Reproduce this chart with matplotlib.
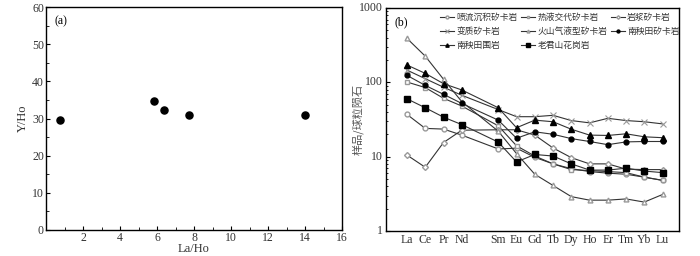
import matplotlib
matplotlib.use("Agg")
import matplotlib.pyplot as plt
from matplotlib.ticker import MultipleLocator, LogLocator, NullFormatter, FixedLocator

# ---------------- data (a) ----------------
la_ho = [0.78, 5.83, 6.40, 7.73, 14.0]
y_ho = [29.5, 34.6, 32.2, 30.9, 30.9]

# ---------------- data (b) ----------------
ree = ["La", "Ce", "Pr", "Nd", "Sm", "Eu", "Gd", "Tb", "Dy", "Ho", "Er", "Tm", "Yb", "Lu"]
ree_pos = [0, 1, 2, 3, 5, 6, 7, 8, 9, 10, 11, 12, 13, 14]

penliu = [37, 24, 23.5, 19.5, 12.7, 13.0, 9.8, 8.0, 6.9, 6.3, 6.0, 5.8, 5.3, 4.8]
reye = [101, 85, 61, 48, 26, 14, 10.2, 8.0, 6.7, 6.5, 6.3, 6.1, 5.3, 4.8]
yanjiang = [10.5, 7.2, 15.5, 22.7, 23, 23, 19.5, 13.1, 9.7, 8.0, 8.0, 6.8, 6.7, 6.7]
bianzhi = [146, 112, 86, 67, 43, 34.5, 34.5, 36, 30.6, 28.5, 32.8, 30.6, 29.5, 27.6]
huoshan = [390, 225, 110, 55, 22, 11, 5.8, 4.1, 2.9, 2.6, 2.6, 2.7, 2.45, 3.1]
nyt_skarn = [124, 91, 69, 52, 31, 17.7, 21.6, 20, 17.5, 16, 14.5, 15.8, 16, 16]
nyt_wall = [171, 132, 96, 79, 45.5, 24.5, 31, 29.5, 23.4, 19.5, 19.3, 20.3, 18.5, 18]
ljs_granite = [60, 45.5, 34, 27, 15.7, 8.5, 10.7, 10.2, 8.0, 6.6, 6.6, 7.0, 6.4, 6.1]

names = ["喷流沉积矽卡岩", "热液交代矽卡岩", "岩浆矽卡岩", "变质矽卡岩",
         "火山气液型矽卡岩", "南秧田矽卡岩", "南秧田围岩", "老君山花岗岩"]

serif = ["Liberation Serif", "DejaVu Serif"]
cjk = ["Noto Sans CJK SC", "DejaVu Sans"]

fig = plt.figure(figsize=(7.0, 2.56), dpi=100)

# ---------------- panel (a) ----------------
axa = fig.add_axes([46 / 700, 26 / 256, 296 / 700, 223 / 256])
axa.scatter(la_ho, y_ho, s=26, color="black", zorder=3)
axa.set_xlim(0, 16)
axa.set_ylim(0, 60)
axa.xaxis.set_major_locator(FixedLocator([2, 4, 6, 8, 10, 12, 14, 16]))
axa.xaxis.set_minor_locator(MultipleLocator(1))
axa.yaxis.set_major_locator(MultipleLocator(10))
axa.yaxis.set_minor_locator(MultipleLocator(5))
axa.tick_params(which="both", direction="in", top=False, right=False,
                labelsize=8.5, pad=1.5)
axa.tick_params(which="major", length=3)
axa.tick_params(which="minor", length=2)
for lab in axa.get_xticklabels() + axa.get_yticklabels():
    lab.set_family(serif)
    lab.set_color("#333333")
axa.set_xlabel("La/Ho", family=serif, fontsize=9, labelpad=-1, color="#333333")
axa.set_ylabel("Y/Ho", family=serif, fontsize=9, labelpad=2, color="#333333")
axa.text(0.03, 0.965, "(a)", transform=axa.transAxes, family=serif,
         fontsize=8.5, va="top", ha="left")
for sp in axa.spines.values():
    sp.set_linewidth(1.0)

# ---------------- panel (b) ----------------
axb = fig.add_axes([386 / 700, 25 / 256, 293 / 700, 223 / 256])
lc = "#333333"
oc = "#999999"
styles = [
    (penliu, dict(marker="o", mfc="white", mec=oc, ms=3.5)),
    (reye, dict(marker="s", mfc="white", mec=oc, ms=3.5)),
    (yanjiang, dict(marker="D", mfc="white", mec=oc, ms=3.0)),
    (bianzhi, dict(marker="x", mec=oc, ms=4, mew=0.8)),
    (huoshan, dict(marker="^", mfc="white", mec=oc, ms=3.5)),
    (nyt_skarn, dict(marker="o", mfc="black", mec="black", ms=3.5)),
    (nyt_wall, dict(marker="^", mfc="black", mec="black", ms=4)),
    (ljs_granite, dict(marker="s", mfc="black", mec="black", ms=3.8)),
]
handles = []
for (vals, st), nm in zip(styles, names):
    h, = axb.plot(ree_pos, vals, color=lc, lw=0.8, label=nm, **st)
    handles.append(h)

axb.set_yscale("log")
axb.set_ylim(1, 1000)
axb.set_xlim(-1.15, 14.9)
axb.set_xticks(ree_pos)
axb.set_xticklabels(ree)
axb.yaxis.set_major_locator(LogLocator(base=10, numticks=10))
axb.yaxis.set_minor_locator(LogLocator(base=10, subs=range(2, 10), numticks=20))
axb.yaxis.set_minor_formatter(NullFormatter())
axb.set_yticklabels([])
axb.tick_params(which="both", direction="in", top=False, right=False,
                labelsize=8.5, pad=2)
axb.tick_params(which="major", length=3)
axb.tick_params(which="minor", length=1.5)
axb.tick_params(axis="x", length=0)
for lab in axb.get_xticklabels():
    lab.set_family(serif)
    lab.set_color("#333333")
for v, s in [(1, "1"), (10, "10"), (100, "100"), (1000, "1000")]:
    axb.text(-0.012, v, s, transform=axb.get_yaxis_transform(), ha="right",
             va="center", family=serif, fontsize=8.5, color="#333333")
axb.set_ylabel("样品/球粒陨石", family=cjk, fontsize=8, labelpad=14, color="#555555")
axb.text(0.03, 0.965, "(b)", transform=axb.transAxes, family=serif,
         fontsize=8.5, va="top", ha="left")
for sp in axb.spines.values():
    sp.set_linewidth(1.0)

order = [0, 3, 6, 1, 4, 7, 2, 5]
leg = axb.legend([handles[i] for i in order], [names[i] for i in order],
                 ncol=3, loc="upper left", bbox_to_anchor=(0.16, 1.01),
                 frameon=False, prop={"family": cjk, "size": 6.3},
                 handlelength=1.6, handletextpad=0.3, columnspacing=0.35,
                 labelspacing=0.6, borderpad=0.3, markerscale=0.6)
for t in leg.get_texts():
    t.set_color("#333333")

fig.savefig("out.png", dpi=100)
